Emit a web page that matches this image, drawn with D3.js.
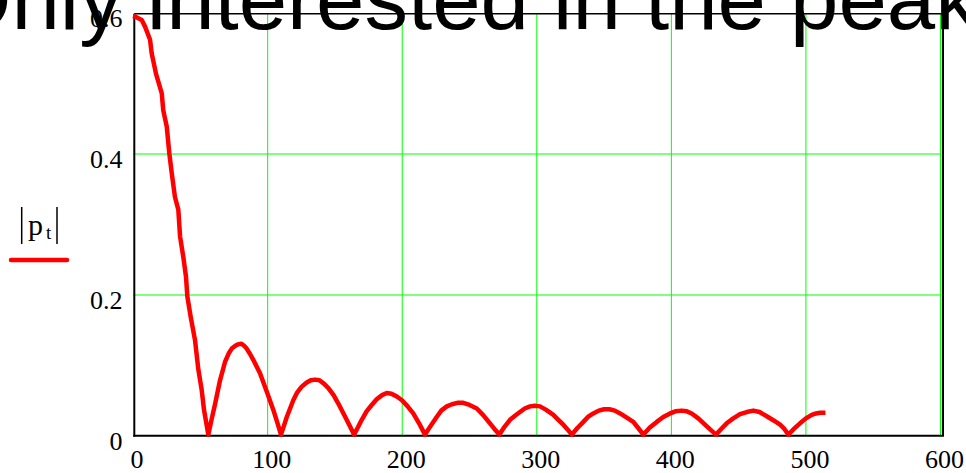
<!DOCTYPE html>
<html>
<head>
<meta charset="utf-8">
<script src="https://cdn.jsdelivr.net/npm/d3@7"></script>
<style>
  html, body { margin: 0; padding: 0; background: #fff; }
  svg { display: block; }
</style>
</head>
<body>
<svg id="chart" width="966" height="473"></svg>
<script>
// ---- data ----
const titleText = "Only interested in the peaks";
const xTicks = [0, 100, 200, 300, 400, 500, 600];
const yTicks = [0, 0.2, 0.4, 0.6];
const yTickLabels = ["0", "0.2", "0.4", "0.6"];
const xGrid = [100, 200, 300, 400, 500, 600];
const yGrid = [0.2, 0.4];
const tValues = [
  0, 1.4, 6.4, 8.8, 12.6, 13.8, 17.0, 21.3, 22.4, 25.0, 26.9, 28.7, 31.1, 33.6, 34.9, 37.3, 39.3, 40.3, 42.8, 46.0, 48.5, 51.0, 52.7, 55.9,
  58.5, 61.0, 64.6, 68.3, 71.0, 73.3, 76.0, 78.0, 80.5, 82.5, 84.4, 87.0, 89.3, 94.3, 99.3, 104.2, 107.0, 109.9,
  112.0, 114.2, 119.1, 122.0, 125.3, 129.0, 132.0, 135.2, 138.5, 142.0, 145.1, 149.0, 152.5, 158.7, 164.2,
  167.0, 169.9, 173.5, 177.3, 181.0, 185.0, 188.5, 192.0, 196.0, 199.6, 204.0, 208.2, 212.5, 216.9,
  221.0, 225.6, 229.0, 233.1, 237.0, 241.0, 245.4, 250.0, 255.4, 260.0, 265.2, 268.5, 272.2,
  276.0, 280.1, 284.0, 287.5, 291.0, 295.0, 298.5, 302.4, 307.0, 312.3, 316.0, 319.7, 323.0, 326.0,
  330.0, 334.6, 338.0, 342.0, 346.0, 350.0, 354.0, 358.0, 361.9, 366.0, 371.7, 375.5, 379.2,
  384.0, 389.1, 394.0, 399.0, 403.0, 407.7, 411.5, 415.1, 420.0, 425.0, 429.0, 433.2,
  437.0, 441.1, 446.0, 451.0, 456.0, 460.9, 465.5, 470.9, 476.0, 480.8, 484.0, 486.9,
  491.0, 495.6, 500.0, 504.3, 507.5, 510.5, 514.5
];
const pValues = [
  0.596, 0.595, 0.590, 0.581, 0.562, 0.543, 0.514, 0.486, 0.462, 0.439, 0.401, 0.373, 0.339, 0.321, 0.283, 0.254, 0.226, 0.198, 0.169, 0.136, 0.094, 0.065, 0.037, 0.002,
  0.025, 0.046, 0.079, 0.105, 0.117, 0.124, 0.128, 0.130, 0.131, 0.128, 0.124, 0.116, 0.108, 0.089, 0.063, 0.037, 0.020, 0.002,
  0.014, 0.027, 0.051, 0.062, 0.070, 0.076, 0.079, 0.080, 0.079, 0.074, 0.068, 0.058, 0.046, 0.023, 0.002,
  0.012, 0.023, 0.035, 0.044, 0.052, 0.058, 0.061, 0.060, 0.056, 0.051, 0.042, 0.032, 0.018, 0.002,
  0.014, 0.027, 0.036, 0.042, 0.045, 0.047, 0.047, 0.044, 0.039, 0.030, 0.018, 0.010, 0.002,
  0.013, 0.023, 0.029, 0.034, 0.039, 0.042, 0.043, 0.042, 0.037, 0.030, 0.023, 0.016, 0.009, 0.002,
  0.011, 0.020, 0.027, 0.032, 0.036, 0.038, 0.038, 0.036, 0.032, 0.027, 0.020, 0.011, 0.002,
  0.012, 0.020, 0.027, 0.032, 0.035, 0.036, 0.035, 0.032, 0.025, 0.016, 0.009, 0.002,
  0.010, 0.018, 0.025, 0.031, 0.034, 0.036, 0.034, 0.028, 0.022, 0.016, 0.010, 0.002,
  0.010, 0.018, 0.025, 0.030, 0.032, 0.033, 0.033
];

// ---- drawing ----
const svg = d3.select("#chart");
const x = d3.scaleLinear().domain([0, 600]).range([133.1, 940.5]);
const y = d3.scaleLinear().domain([0, 0.6]).range([436, 13]);

const serif = "'Liberation Serif', 'Times New Roman', serif";
const sans = "'Liberation Sans', Arial, sans-serif";

// gridlines
svg.append("g").selectAll("line").data(xGrid).join("line")
  .attr("x1", d => x(d)).attr("x2", d => x(d))
  .attr("y1", y(0.6)).attr("y2", y(0))
  .attr("stroke", "#00ff00").attr("stroke-width", 1);
svg.append("g").selectAll("line").data(yGrid).join("line")
  .attr("x1", x(0)).attr("x2", x(600))
  .attr("y1", d => y(d)).attr("y2", d => y(d))
  .attr("stroke", "#00ff00").attr("stroke-width", 1);

// frame
const L = x(0) + 1.2, R = x(600) + 2.5, T = y(0.6) + 0.8, B = y(0) - 0.3;
svg.append("line").attr("x1", L).attr("x2", R).attr("y1", T).attr("y2", T)
  .attr("stroke", "#000").attr("stroke-width", 1.6);
svg.append("line").attr("x1", R).attr("x2", R).attr("y1", T).attr("y2", B)
  .attr("stroke", "#000").attr("stroke-width", 2);
svg.append("line").attr("x1", L).attr("x2", L).attr("y1", T).attr("y2", B + 1)
  .attr("stroke", "#000").attr("stroke-width", 2);
svg.append("line").attr("x1", L - 1).attr("x2", R + 1).attr("y1", B).attr("y2", B)
  .attr("stroke", "#000").attr("stroke-width", 2);

// tick labels
svg.append("g").selectAll("text").data(xTicks).join("text")
  .attr("x", d => x(d) + 4).attr("y", 468)
  .attr("text-anchor", "middle")
  .attr("font-family", serif).attr("font-size", 26)
  .text(d => d);
svg.append("g").selectAll("text").data(yTicks).join("text")
  .attr("x", 122.5).attr("y", d => y(d) + 13.7)
  .attr("text-anchor", "end")
  .attr("font-family", serif).attr("font-size", 26)
  .text((d, i) => yTickLabels[i]);

// curve
const pts = tValues.map((t, i) => [t, pValues[i]]);
svg.append("path")
  .attr("d", d3.line().x(d => x(d[0])).y(d => y(d[1]))(pts))
  .attr("fill", "none").attr("stroke", "#ff0000")
  .attr("stroke-width", 4.5).attr("stroke-linejoin", "round");

// legend
const lg = svg.append("g");
lg.append("line").attr("x1", 21.7).attr("x2", 21.7).attr("y1", 207).attr("y2", 244)
  .attr("stroke", "#000").attr("stroke-width", 1.5);
lg.append("line").attr("x1", 57).attr("x2", 57).attr("y1", 207).attr("y2", 244)
  .attr("stroke", "#000").attr("stroke-width", 1.5);
lg.append("text").attr("x", 28).attr("y", 235)
  .attr("font-family", serif).attr("font-size", 30).text("p");
lg.append("text").attr("x", 46).attr("y", 239)
  .attr("font-family", serif).attr("font-size", 19).text("t");
lg.append("line").attr("x1", 11).attr("x2", 67).attr("y1", 260).attr("y2", 260)
  .attr("stroke", "#ff0000").attr("stroke-width", 4.5).attr("stroke-linecap", "round");

// title (drawn last, overlapping the plot)
svg.append("text").attr("x", 483).attr("y", 29.3)
  .attr("text-anchor", "middle")
  .attr("font-family", sans).attr("font-size", 87)
  .attr("fill", "#000")
  .text(titleText);
</script>
</body>
</html>
